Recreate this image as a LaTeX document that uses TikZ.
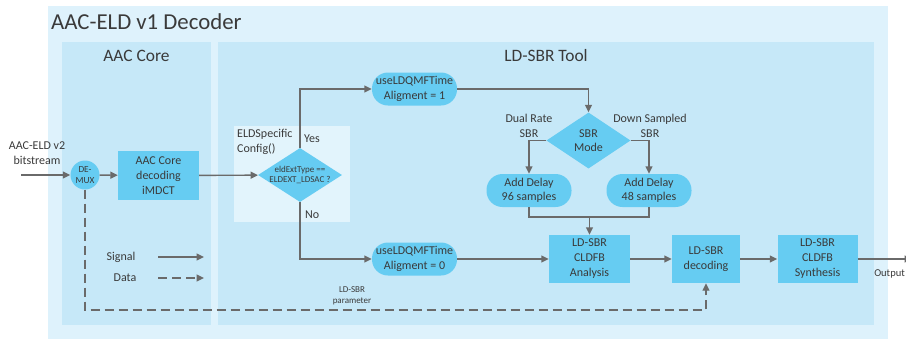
\documentclass[tikz,border=0pt]{standalone}
\usepackage{fontspec}
\setmainfont{Carlito}
\usetikzlibrary{arrows.meta,shapes.geometric}
\definecolor{outerbg}{HTML}{DEF2FC}
\definecolor{panelbg}{HTML}{C6E8F8}
\definecolor{cfgbg}{HTML}{E2F4FC}
\definecolor{blockfill}{HTML}{66CCF2}
\definecolor{wire}{HTML}{6A6A6A}
\definecolor{ink}{HTML}{3A3A3A}
\tikzset{
  every node/.style={text=ink},
  blockbox/.style={rectangle, fill=blockfill, inner sep=0pt, align=center,
    font=\fontsize{12}{15}\selectfont},
  pill/.style={rectangle, rounded corners=16pt, fill=blockfill, inner sep=0pt,
    minimum width=85pt, minimum height=33pt, align=center,
    font=\fontsize{12}{14.5}\selectfont},
  decision/.style={diamond, fill=blockfill, inner sep=0pt},
  plain/.style={align=center, inner sep=0pt, font=\fontsize{12}{15}\selectfont},
  sig/.style={draw=wire, line width=1.4pt, -{Triangle[length=7.5pt,width=7pt]}},
  wireline/.style={draw=wire, line width=1.4pt},
  dat/.style={draw=wire, line width=1.4pt, dash pattern=on 9pt off 5pt,
    -{Triangle[length=7.5pt,width=7pt]}},
}
\begin{document}
\begin{tikzpicture}[x=1pt, y=-1pt]
\useasboundingbox (0,0) rectangle (906,338);

% frames
\fill[outerbg] (48,6) rectangle (888,345);
\fill[panelbg] (62,42) rectangle (211,325);
\fill[panelbg] (218,42) rectangle (874,325);
\fill[cfgbg] (234,126) rectangle (350,222);

\node[anchor=base west, inner sep=0pt, font=\fontsize{22.8}{26}\selectfont] (title) at (51,29) {AAC-ELD v1 Decoder};
\node[anchor=base, inner sep=0pt, font=\fontsize{17.4}{20}\selectfont] (coretitle) at (136.5,61) {AAC Core};
\node[anchor=base, inner sep=0pt, font=\fontsize{17.4}{20}\selectfont] (sbrtitle) at (546,61) {LD-SBR Tool};

% AAC core blocks
\node[circle, fill=blockfill, minimum size=29pt, inner sep=0pt, align=center,
  font=\fontsize{9.3}{11.5}\selectfont] (demux) at (85,175) {DE-\\MUX};
\node[blockbox, minimum width=81pt, minimum height=49pt] (core) at (158.5,175.5) {AAC Core\\decoding\\iMDCT};
\node[plain] (inlabel) at (37,153.5) {AAC-ELD v2\\bitstream};
\coordinate (in) at (21,175);

% ELDSpecificConfig decision
\node[anchor=north west, align=left, inner sep=0pt, font=\fontsize{12}{15}\selectfont] (cfglabel) at (237,129) {ELDSpecific\\Config()};
\node[decision, minimum width=84pt, minimum height=54pt,
  label={[align=center, inner sep=0pt, font=\fontsize{9}{9.5}\selectfont]center:eldExtType ==\\ELDEXT\_LDSAC ?}] (dec) at (300,175) {};
\node[plain, anchor=west] (yes) at (304,139) {Yes};
\node[plain, anchor=west] (no) at (305,215) {No};

% time alignment
\node[pill] (top) at (414.5,89) {useLDQMFTime\\Aligment = 1};
\node[pill] (bot) at (414.5,259) {useLDQMFTime\\Aligment = 0};

% SBR mode
\node[decision, minimum width=84pt, minimum height=56pt] (mode) at (588.5,140.5) {};
\node[plain, font=\fontsize{12}{14.5}\selectfont] (modetext) at (mode.center) {SBR\\Mode};
\node[plain] (dual) at (529,125.5) {Dual Rate\\SBR};
\node[plain] (down) at (650,125.5) {Down Sampled\\SBR};
\node[pill] (d96) at (529,190.5) {Add Delay\\96 samples};
\node[pill] (d48) at (649,190.5) {Add Delay\\48 samples};
\coordinate (join) at (589.5,217);

% LD-SBR chain
\node[blockbox, minimum width=81pt, minimum height=48pt] (ana) at (589.5,259) {LD-SBR\\CLDFB\\Analysis};
\node[blockbox, minimum width=68pt, minimum height=48pt] (sbrdec) at (706,259) {LD-SBR\\decoding};
\node[blockbox, minimum width=80pt, minimum height=48pt] (syn) at (817.5,259) {LD-SBR\\CLDFB\\Synthesis};
\coordinate (out) at (912,259);
\node[anchor=east, inner sep=0pt, font=\fontsize{10.5}{13}\selectfont] (outlabel) at (905,274) {Output};

% parameter path
\coordinate (pd) at (706,310);
\node[plain, font=\fontsize{9}{11.5}\selectfont] (param) at (352,296) {LD-SBR\\parameter};

% legend
\node[plain] (siglabel) at (121,257) {Signal};
\node[plain] (datlabel) at (125,278) {Data};
\coordinate (s1) at (158,257);
\coordinate (s2) at (204,257);
\coordinate (t1) at (158,278);
\coordinate (t2) at (204,278);

% connectors
\draw[sig] (in) -- (demux);
\draw[sig] (demux) -- (core);
\draw[sig] (core) -- (dec);
\draw[sig] (dec.north) |- (top.west);
\draw[sig] (dec.south) |- (bot.west);
\draw[sig] (top.east) -| (mode.north);
\draw[sig] (mode.west) -| (d96.north);
\draw[sig] (mode.east) -| (d48.north);
\draw[wireline] (d96.south) |- (join) -| (d48.south);
\draw[sig] (join) -- (ana.north);
\draw[sig] (bot) -- (ana);
\draw[sig] (ana) -- (sbrdec);
\draw[sig] (sbrdec) -- (syn);
\draw[sig] (syn) -- (out);
\draw[dat] (demux.south) |- (pd) -- (sbrdec.south);
\draw[sig] (s1) -- (s2);
\draw[dat] (t1) -- (t2);
\end{tikzpicture}
\end{document}
